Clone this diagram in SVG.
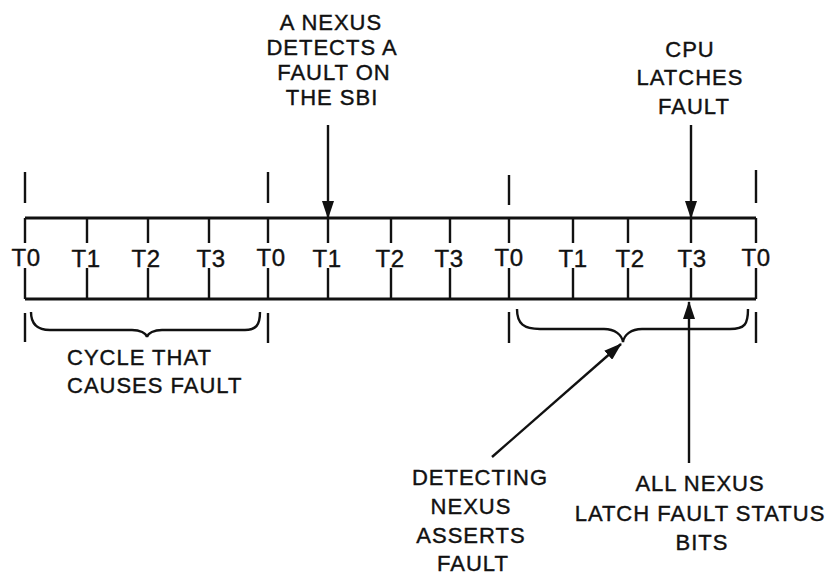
<svg xmlns="http://www.w3.org/2000/svg" width="840" height="576" viewBox="0 0 840 576">
<style>
.ln{stroke:#111;stroke-width:2.4;fill:none;stroke-linecap:butt}
.box{stroke:#111;stroke-width:3;fill:none}
.t{font-family:"Liberation Sans",Arial,sans-serif;font-size:24px;fill:#111;stroke:#111;stroke-width:0.4;text-anchor:middle;letter-spacing:0.5px}
.lbl{font-family:"Liberation Sans",Arial,sans-serif;font-size:22px;fill:#111;stroke:#111;stroke-width:0.4;text-anchor:middle;letter-spacing:1px}
</style>
<defs>
<marker id="ah" viewBox="0 0 18 12" markerWidth="18" markerHeight="12" markerUnits="userSpaceOnUse" refX="17" refY="6" orient="auto">
<path d="M0,0 L18,6 L0,12 z" fill="#111"/>
</marker>
</defs>
<rect width="840" height="576" fill="#fff"/>
<g id="timeline">
<path class="box" d="M25,218 H756 M25,299 H756"/>
<path class="ln" d="M25,218 V243 M25,268 V299 M756,218 V243 M756,268 V299
M87,218 V243 M87,268 V299 M148,218 V243 M148,268 V299 M209,218 V243 M209,268 V299
M268,218 V243 M268,268 V299 M328,218 V243 M328,268 V299 M391,218 V243 M391,268 V299
M450,218 V243 M450,268 V299 M509,218 V243 M509,268 V299 M573,218 V243 M573,268 V299
M628,218 V243 M628,268 V299 M691,218 V243 M691,268 V299"/>
<text class="t" x="26" y="266">T0</text>
<text class="t" x="86" y="267">T1</text>
<text class="t" x="146" y="267">T2</text>
<text class="t" x="211" y="267">T3</text>
<text class="t" x="271" y="266">T0</text>
<text class="t" x="327" y="267">T1</text>
<text class="t" x="390" y="267">T2</text>
<text class="t" x="449" y="267">T3</text>
<text class="t" x="509" y="266">T0</text>
<text class="t" x="573" y="267">T1</text>
<text class="t" x="630" y="267">T2</text>
<text class="t" x="692" y="267">T3</text>
<text class="t" x="756" y="266">T0</text>
</g>
<g id="marks">
<path class="ln" d="M25,172 V203 M268,172 V203 M509,175 V205 M756,170 V203
M25,313 V342 M268,313 V343 M509,312 V343 M756,312 V343"/>
</g>
<g id="brace-left">
<path class="ln" d="M31,312 C31,325 38,330 50,330 L132,330 C140,330 146,333 147,337 C148,333 154,330 162,330 L245,330 C256,330 260,325 260,312"/>
</g>
<g id="brace-right">
<path class="ln" d="M517,309 C517,324 524,329 540,329 L604,329 C615,329 622,335 623,342 C624,335 631,329 642,329 L730,329 C745,329 748,324 748,309"/>
</g>
<g id="label-nexus-detects">
<text class="lbl" x="331" y="30">A NEXUS</text>
<text class="lbl" x="332" y="55">DETECTS A</text>
<text class="lbl" x="334" y="80">FAULT ON</text>
<text class="lbl" x="332" y="105">THE SBI</text>
</g>
<g id="label-cpu">
<text class="lbl" x="690" y="57">CPU</text>
<text class="lbl" x="690" y="85">LATCHES</text>
<text class="lbl" x="694" y="114">FAULT</text>
</g>
<g id="label-cycle">
<text class="lbl" x="67" y="365" style="text-anchor:start">CYCLE THAT</text>
<text class="lbl" x="67" y="393" style="text-anchor:start">CAUSES FAULT</text>
</g>
<g id="label-detecting">
<text class="lbl" x="480" y="485">DETECTING</text>
<text class="lbl" x="471" y="514">NEXUS</text>
<text class="lbl" x="471" y="543">ASSERTS</text>
<text class="lbl" x="473" y="571">FAULT</text>
</g>
<g id="label-all-nexus">
<text class="lbl" x="700" y="491">ALL NEXUS</text>
<text class="lbl" x="700" y="521">LATCH FAULT STATUS</text>
<text class="lbl" x="702" y="550">BITS</text>
</g>
<g id="connectors">
<line class="ln" x1="328" y1="125" x2="328" y2="218" marker-end="url(#ah)"/>
<line class="ln" x1="691" y1="125" x2="691" y2="218" marker-end="url(#ah)"/>
<line class="ln" x1="689" y1="463" x2="689" y2="302" marker-end="url(#ah)"/>
<line class="ln" x1="492" y1="457" x2="621" y2="344" marker-end="url(#ah)"/>
</g>
</svg>
